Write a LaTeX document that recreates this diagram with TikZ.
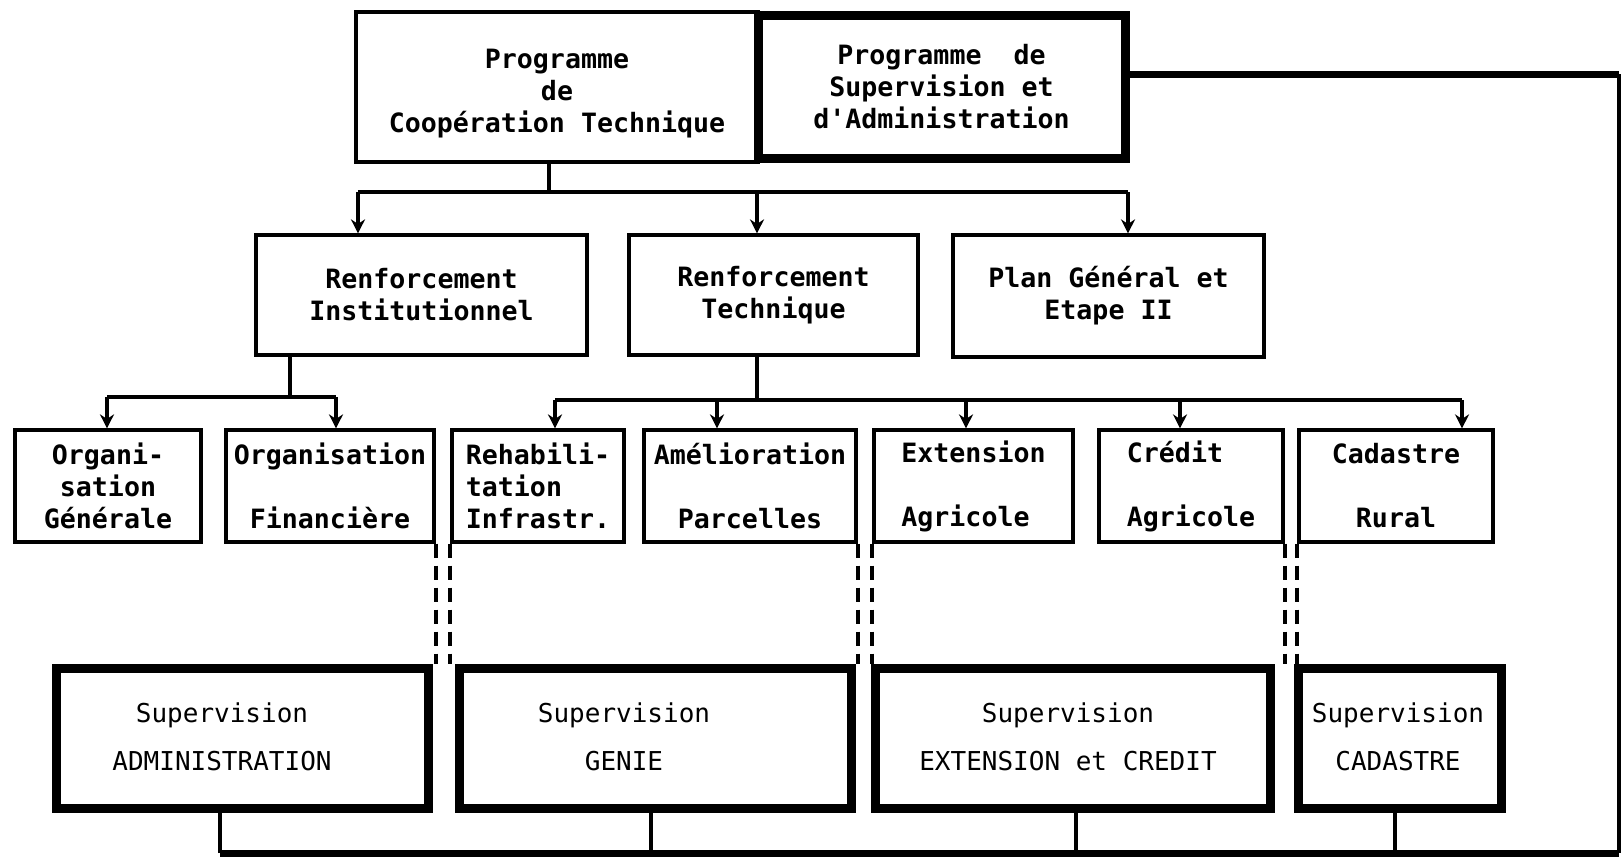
\documentclass[tikz,border=0pt]{standalone}
\usepackage{fontspec}
\newfontfamily\mfont{DejaVu Sans Mono}
\usetikzlibrary{arrows.meta}
\begin{document}
\begin{tikzpicture}[x=0.5pt,y=-0.5pt,
  thinbox/.style={draw, line width=1.6pt, inner sep=0pt, align=center,
    font=\mfont\bfseries\fontsize{13.3}{16}\selectfont},
  thickbox/.style={draw, line width=4.5pt, inner sep=0pt},
  suptext/.style={inner sep=0pt, align=center, font=\mfont\fontsize{13}{16}\selectfont},
  arr/.style={line width=1.6pt, -{Stealth[length=7pt,width=7pt]}},
  link/.style={line width=1.6pt},
  buslink/.style={line width=3.5pt},
  dashlink/.style={line width=2pt, dash pattern=on 7pt off 4pt}]
\useasboundingbox (0,0) rectangle (1622,857);

% top row
\node[thinbox, minimum width=201pt, minimum height=75pt] (A) at (557,87) {\rule{0pt}{16pt}Programme\\de\\Coopération Technique};
\node[thickbox, minimum width=183.5pt, minimum height=71.5pt, align=center,
  font=\mfont\bfseries\fontsize{13.3}{16}\selectfont] (B) at (941.5,86.5) {Programme~ de\\Supervision et\\d'Administration};

% second row
\node[thinbox, minimum width=165.5pt, minimum height=60pt] (RI) at (421.5,295) {Renforcement\\Institutionnel};
\node[thinbox, minimum width=144.5pt, minimum height=60pt] (RT) at (773.5,295) {Renforcement\\Technique};
\node[thinbox, minimum width=155.5pt, minimum height=61pt] (PG) at (1108.5,296) {Plan Général et\\Etape II};

% third row
\node[thinbox, minimum width=93pt, minimum height=56pt] (OG) at (108,486) {Organi-\\sation\\Générale};
\node[thinbox, minimum width=104pt, minimum height=56pt] (OF) at (330,486) {Organisation\\[16pt]Financière};
\node[thinbox, minimum width=86pt, minimum height=56pt, align=left] (RH) at (538,486) {Rehabili-\\tation\\Infrastr.};
\node[thinbox, minimum width=106pt, minimum height=56pt] (AM) at (750,486) {Amélioration\\[16pt]Parcelles};
\node[thinbox, minimum width=99.5pt, minimum height=56pt, align=left] (EX) at (973.5,486) {Extension\\[16pt]Agricole};
\node[thinbox, minimum width=92pt, minimum height=56pt, align=left] (CR) at (1191,486) {Crédit\\[16pt]Agricole};
\node[thinbox, minimum width=97pt, minimum height=56pt] (CA) at (1396,486) {Cadastre\\[16pt]Rural};

% fourth row
\node[thickbox, minimum width=186pt, minimum height=70pt] (SA) at (242,738) {};
\node[thickbox, minimum width=196pt, minimum height=70pt] (SG) at (655,738) {};
\node[thickbox, minimum width=197.5pt, minimum height=70pt] (SE) at (1072.5,738) {};
\node[thickbox, minimum width=101.5pt, minimum height=70pt] (SC) at (1399.5,738) {};
\node[suptext] (SAt) at (222,737) {Supervision\\[8pt]ADMINISTRATION};
\node[suptext] (SGt) at (624,737) {Supervision\\[8pt]GENIE};
\node[suptext] (SEt) at (1068,737) {Supervision\\[8pt]EXTENSION et CREDIT};
\node[suptext] (SCt) at (1398,737) {Supervision\\[8pt]CADASTRE};

% connectors top -> second row
\coordinate (j1) at (549,192);
\coordinate (h1a) at (358,192);
\coordinate (h1b) at (757,192);
\coordinate (h1c) at (1128,192);
\draw[link] (A.south -| j1) -- (j1);
\draw[link] (h1a) -- (h1c);
\draw[arr] (h1a) -- (h1a |- RI.north);
\draw[arr] (h1b) -- (h1b |- RT.north);
\draw[arr] (h1c) -- (h1c |- PG.north);

% connectors second -> third row
\coordinate (j2) at (290,397);
\coordinate (h2a) at (107,397);
\coordinate (h2b) at (336,397);
\draw[link] (RI.south -| j2) -- (j2);
\draw[link] (h2a) -- (h2b);
\draw[arr] (h2a) -- (h2a |- OG.north);
\draw[arr] (h2b) -- (h2b |- OF.north);

\coordinate (j3) at (757,400);
\coordinate (h3a) at (555,400);
\coordinate (h3b) at (717,400);
\coordinate (h3c) at (966,400);
\coordinate (h3d) at (1180,400);
\coordinate (h3e) at (1462,400);
\draw[link] (RT.south -| j3) -- (j3);
\draw[link] (h3a) -- (h3e);
\draw[arr] (h3a) -- (h3a |- RH.north);
\draw[arr] (h3b) -- (h3b |- AM.north);
\draw[arr] (h3c) -- (h3c |- EX.north);
\draw[arr] (h3d) -- (h3d |- CR.north);
\draw[arr] (h3e) -- (h3e |- CA.north);

% dashed links third -> fourth row
\draw[dashlink] (OF.south east) -- (OF.south east |- SA.north);
\draw[dashlink] (RH.south west) -- (RH.south west |- SG.north);
\draw[dashlink] (AM.south east) -- (AM.south east |- SG.north);
\draw[dashlink] (EX.south west) -- (EX.south west |- SE.north);
\draw[dashlink] (CR.south east) -- (CR.south east |- SE.north);
\draw[dashlink] (CA.south west) -- (CA.south west |- SC.north);

% supervision bus
\coordinate (c1) at (1619,74);
\coordinate (c2) at (1619,853);
\coordinate (b1) at (220,853);
\coordinate (b2) at (651,853);
\coordinate (b3) at (1076,853);
\coordinate (b4) at (1395,853);
\draw[buslink] (B.east |- c1) -- (c1);
\draw[line width=2pt] (c1) -- (c2);
\draw[buslink] (b1) -- (c2);
\draw[link] (b1) -- (b1 |- SA.south);
\draw[link] (b2) -- (b2 |- SG.south);
\draw[link] (b3) -- (b3 |- SE.south);
\draw[link] (b4) -- (b4 |- SC.south);
\end{tikzpicture}
\end{document}
